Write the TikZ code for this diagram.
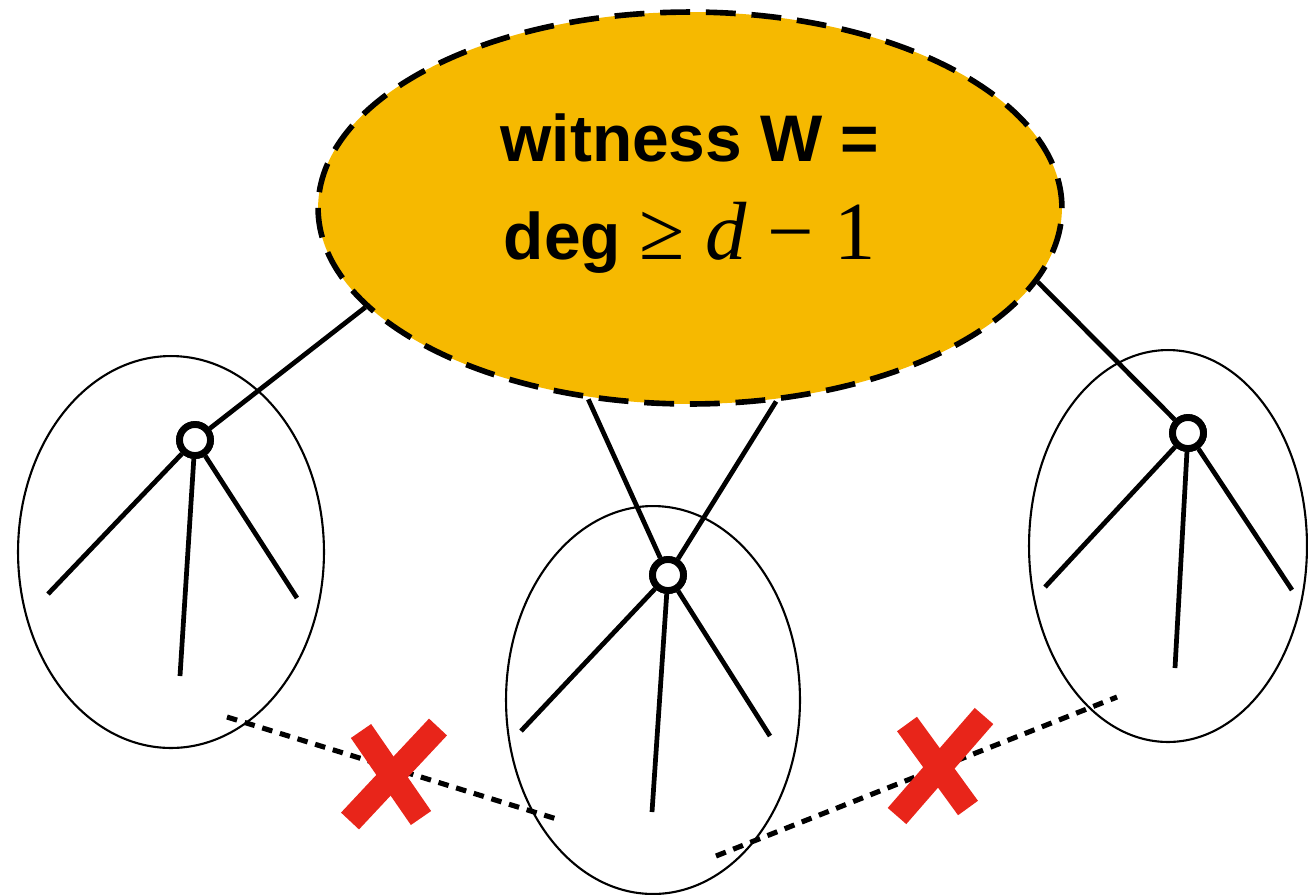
\documentclass[tikz,border=0pt]{standalone}
\usepackage{fontspec}
\setmainfont{Liberation Sans}
\newfontfamily\serifmath{Liberation Serif}
\usetikzlibrary{shapes.geometric}
\definecolor{wgold}{HTML}{F6B900}
\definecolor{xred}{HTML}{E8251A}
\tikzset{
  tree/.style={ellipse, draw, line width=1.2pt, inner sep=0pt},
  vert/.style={circle, draw, fill=white, line width=3.9pt, minimum size=0.62cm, inner sep=0pt},
  edge/.style={line width=2.7pt},
  nonedge/.style={line width=2.9pt, dash pattern=on 6pt off 4.5pt},
  cross/.style={line width=14pt, xred},
  witness/.style={ellipse, draw, fill=wgold, line width=3.2pt, dash pattern=on 17pt off 9pt,
    minimum width=14.88cm, minimum height=7.84cm, inner sep=0pt, align=center,
    font=\fontsize{37.5}{52}\selectfont\bfseries}
}
\begin{document}
\begin{tikzpicture}[x=0.02cm, y=-0.02cm]
\useasboundingbox (0,0) rectangle (1308,894);
% tree ellipses
\node[tree, minimum width=6.12cm, minimum height=7.84cm] (T1) at (171,552) {};
\node[tree, minimum width=5.88cm, minimum height=7.76cm] (T2) at (653,700) {};
\node[tree, minimum width=5.56cm, minimum height=7.84cm] (T3) at (1168,546) {};
% roots
\node[vert] (r1) at (195,440) {};
\node[vert] (r2) at (668,575) {};
\node[vert] (r3) at (1188,433) {};
% leaf ends
\coordinate (a1) at (48,594);
\coordinate (a2) at (180,676);
\coordinate (a3) at (297,598);
\coordinate (b1) at (521,731);
\coordinate (b2) at (652,812);
\coordinate (b3) at (770,736);
\coordinate (c1) at (1045,587);
\coordinate (c2) at (1175,668);
\coordinate (c3) at (1292,590);
\foreach \r/\l in {r1/a1,r1/a2,r1/a3,r2/b1,r2/b2,r2/b3,r3/c1,r3/c2,r3/c3}
  \draw[edge] (\r) -- (\l);
% witness
\node[witness] (W) at (690,208) {witness W =\\[4pt]deg {\mdseries\serifmath\fontsize{47}{52}\selectfont ≥ \textit{d} − 1}\rule[-24pt]{0pt}{0pt}};
% connections from witness
\draw[edge] (W.197) -- (r1);
\draw[edge] (W.242) -- (r2);
\draw[edge] (W.294.6) -- (r2);
\draw[edge] (W.348) -- (r3);
% redraw roots on top
\node[vert] at (r1) {};
\node[vert] at (r2) {};
\node[vert] at (r3) {};
% non-edges
\coordinate (p1) at (227,717);
\coordinate (p2) at (560,820);
\coordinate (q1) at (716,856);
\coordinate (q2) at (1117,697);
\draw[nonedge] (p1) -- (p2);
\draw[nonedge] (q1) -- (q2);
% crosses
\draw[cross] (350,821) -- (438,727);
\draw[cross] (361,731) -- (421,818);
\draw[cross] (897,816) -- (984,716);
\draw[cross] (907,724) -- (968,808);
\end{tikzpicture}
\end{document}
